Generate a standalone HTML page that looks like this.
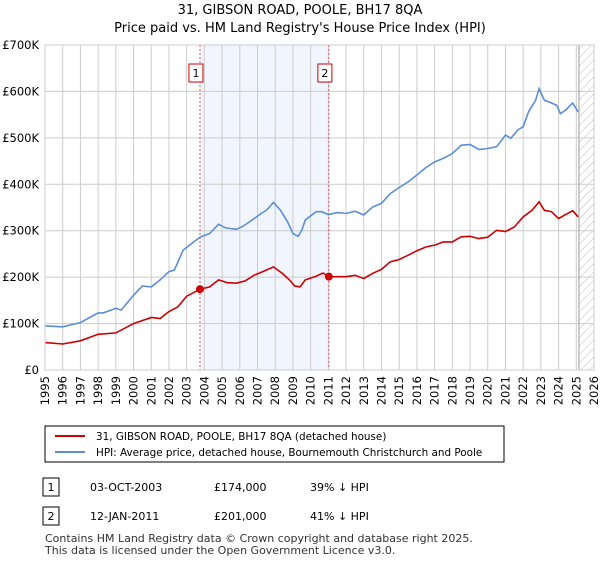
<!DOCTYPE html>
<html><head><meta charset="utf-8"><style>
body{margin:0;background:#fff;font-family:"Liberation Sans",sans-serif;}
svg text{font-family:"DejaVu Sans","Liberation Sans",sans-serif;}
</style></head><body>
<svg id="c" width="600" height="560" xmlns="http://www.w3.org/2000/svg">
<defs><pattern id="hatch" width="6" height="6" patternUnits="userSpaceOnUse" patternTransform="rotate(45)"><line x1="0" y1="0" x2="0" y2="6" stroke="#bbb" stroke-width="1"/></pattern></defs>
<text x="300" y="14" text-anchor="middle" font-size="13">31, GIBSON ROAD, POOLE, BH17 8QA</text>
<text x="300" y="32" text-anchor="middle" font-size="13">Price paid vs. HM Land Registry's House Price Index (HPI)</text>
<g id="grid"></g><g id="marks"></g>
<rect x="45" y="426" width="459" height="36" fill="#fff" stroke="#000"/>
<line x1="55" y1="436" x2="85" y2="436" stroke="#cc0000" stroke-width="2"/>
<text x="96" y="440" font-size="10.4">31, GIBSON ROAD, POOLE, BH17 8QA (detached house)</text>
<line x1="55" y1="452" x2="85" y2="452" stroke="#5b8ed6" stroke-width="2"/>
<text x="96" y="456" font-size="10.4">HPI: Average price, detached house, Bournemouth Christchurch and Poole</text>
<rect x="43" y="478" width="16" height="18" fill="#fff" stroke="#000"/>
<text x="51" y="491" font-size="11" text-anchor="middle">1</text>
<text x="90" y="491" font-size="11">03-OCT-2003</text>
<text x="214" y="491" font-size="11">£174,000</text>
<text x="310" y="491" font-size="11">39% ↓ HPI</text>
<rect x="43" y="507" width="16" height="18" fill="#fff" stroke="#000"/>
<text x="51" y="520" font-size="11" text-anchor="middle">2</text>
<text x="90" y="520" font-size="11">12-JAN-2011</text>
<text x="214" y="520" font-size="11">£201,000</text>
<text x="310" y="520" font-size="11">41% ↓ HPI</text>
<text x="45" y="542" font-size="11" fill="#333">Contains HM Land Registry data © Crown copyright and database right 2025.</text>
<text x="45" y="554" font-size="11" fill="#333">This data is licensed under the Open Government Licence v3.0.</text>
</svg>
<script>
const hpiYears=[1995,1996,1997,1998,1998.3,1999,1999.3,2000,2000.5,2001,2001.5,2002,2002.3,2002.8,2003.3,2003.75,2004.3,2004.8,2005.2,2005.8,2006.2,2006.7,2007.2,2007.5,2007.9,2008.3,2008.7,2009.0,2009.3,2009.5,2009.7,2010.3,2010.6,2011.0,2011.5,2012.0,2012.5,2013.0,2013.5,2014.0,2014.5,2015.0,2015.5,2016.0,2016.5,2017.0,2017.5,2018.0,2018.5,2019.0,2019.5,2020.0,2020.5,2021.0,2021.3,2021.7,2022.0,2022.3,2022.7,2022.9,2023.2,2023.5,2023.9,2024.1,2024.4,2024.8,2025.1];
const hpiValues=[95,93,102,123,123,133,129,161,181,179,194,212,215,258,273,286,294,314,306,303,310,323,337,344,361,344,319,294,288,301,323,341,341,335,339,337,342,334,351,359,380,393,405,420,436,448,456,466,484,486,475,477,481,506,499,517,524,556,581,606,581,577,570,552,560,575,556];
const ppYears=[1995,1996,1997,1998,1999,2000,2001,2001.5,2002,2002.5,2003,2003.75,2004.3,2004.8,2005.3,2005.8,2006.3,2006.8,2007.3,2007.9,2008.4,2008.8,2009.1,2009.4,2009.7,2010.3,2010.7,2011.03,2011.5,2012,2012.5,2013,2013.5,2014,2014.5,2015,2015.5,2016,2016.5,2017,2017.5,2018,2018.5,2019,2019.5,2020,2020.5,2021,2021.5,2022,2022.5,2022.9,2023.2,2023.6,2024.0,2024.3,2024.8,2025.1];
const ppValues=[59,56,63,77,80,100,113,111,126,136,159,174,179,194,188,187,192,204,212,222,208,194,181,179,194,202,209,201,201,201,204,197,208,217,233,238,247,257,265,269,276,276,287,288,283,286,301,298,308,330,344,362,344,341,326,333,343,330];
const saleYears=[2003.75,2011.03];
const saleValues=[174,201];
const saleLabels=["1","2"];
const yTicks=[0,100,200,300,400,500,600,700];
const yTickLabels=["£0","£100K","£200K","£300K","£400K","£500K","£600K","£700K"];
const xTicks=[];for(let y=1995;y<=2026;y++)xTicks.push(y);
const hatchStart=2025.15;
const L=45,R=594,T=45,B=370,Y0=1995,Y1=2026;
const X=v=>L+(v-Y0)/(Y1-Y0)*(R-L);
const Y=v=>B-v/700*(B-T);
const NS="http://www.w3.org/2000/svg";
function mk(tag,attrs,parent,text){const e=document.createElementNS(NS,tag);for(const k in attrs)e.setAttribute(k,attrs[k]);if(text!==undefined)e.textContent=text;parent.appendChild(e);return e;}
const g=document.getElementById('grid'),m=document.getElementById('marks');
let sh=mk('rect',{x:X(saleYears[0]),y:T,width:X(saleYears[1])-X(saleYears[0]),height:B-T,fill:'#eef3fc',opacity:0.8},g);


let ht=mk('rect',{x:X(hatchStart),y:T,width:R-X(hatchStart),height:B-T,fill:'url(#hatch)'},g);


xTicks.forEach(t=>{mk('line',{x1:X(t),y1:T,x2:X(t),y2:B,stroke:'#ccc'},g);
const tx=mk('text',{x:0,y:0,'font-size':11.5,'text-anchor':'end',transform:`translate(${X(t)+4},${B+6}) rotate(-90)`},g,String(t));

});
yTicks.forEach((t,i)=>{mk('line',{x1:L,y1:Y(t),x2:R,y2:Y(t),stroke:'#ccc'},g);
const tx=mk('text',{x:L-6,y:Y(t)+4,'font-size':11.5,'text-anchor':'end'},g,yTickLabels[i]);

});
mk('line',{x1:X(hatchStart),y1:T,x2:X(hatchStart),y2:B,stroke:'#999'},g);
saleYears.forEach((s,i)=>{const ln=mk('line',{x1:X(s),y1:T,x2:X(s),y2:B,stroke:'#e55','stroke-dasharray':'2,2'},m);


const bx=mk('rect',{x:X(s)-11,y:64,width:14,height:18,fill:'#fff',stroke:'#cc0000'},m);


mk('text',{x:X(s)-4,y:77,'font-size':11,'text-anchor':'middle'},m,saleLabels[i]);});
function path(xs,vs){return xs.map((x,i)=>(i?'L':'M')+X(x).toFixed(1)+','+Y(vs[i]).toFixed(1)).join('');}
const hp=mk('path',{d:path(hpiYears,hpiValues),fill:'none',stroke:'#5b8ed6','stroke-width':1.6},m);


const pp=mk('path',{d:path(ppYears,ppValues),fill:'none',stroke:'#cc0000','stroke-width':1.6},m);


saleYears.forEach((s,i)=>{const c=mk('circle',{cx:X(s),cy:Y(saleValues[i]),r:4,fill:'#cc0000'},m);

});
mk('rect',{x:L,y:T,width:R-L,height:B-T,fill:'none',stroke:'#ccc'},m);
</script>
</body></html>
